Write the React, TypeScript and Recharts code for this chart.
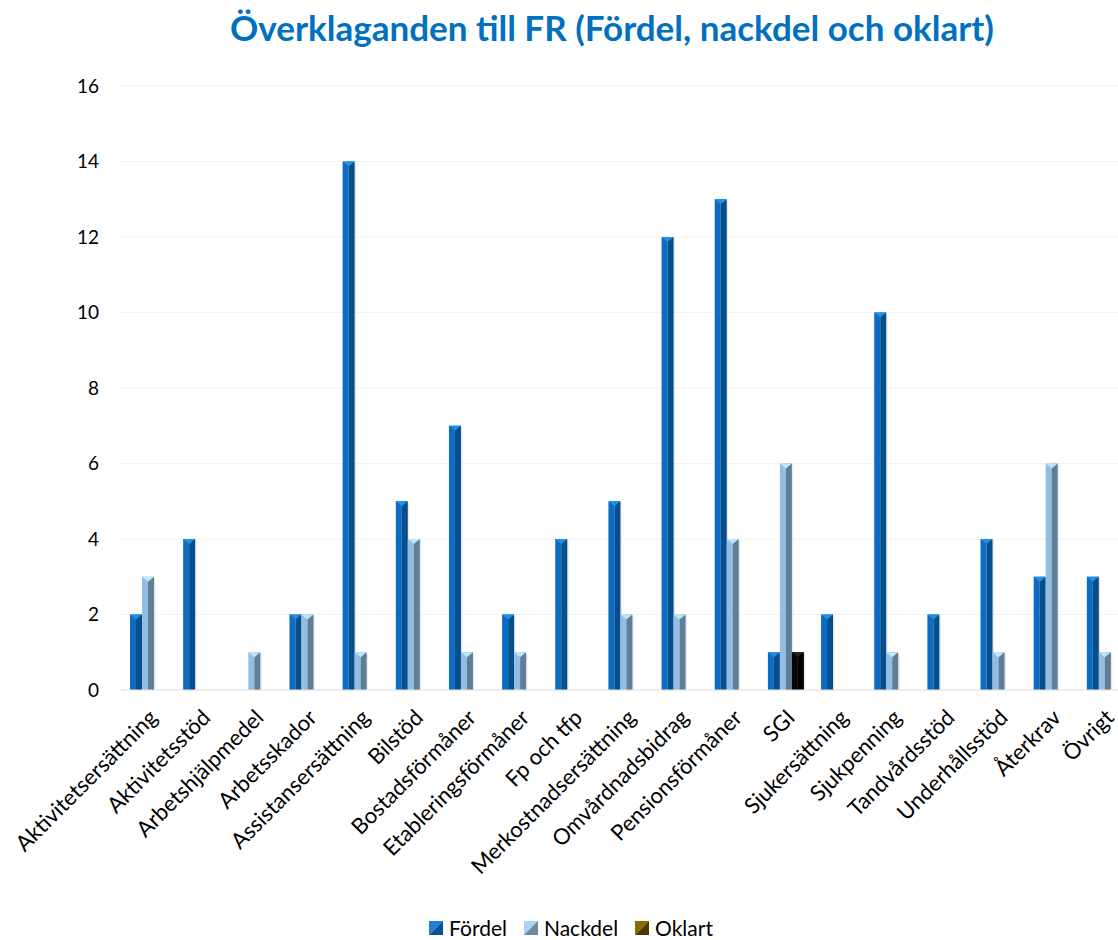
import React from "react";
import { BarChart, Bar, XAxis, YAxis, CartesianGrid, Legend } from "recharts";

const categories = [
  "Aktivitetsersättning",
  "Aktivitetsstöd",
  "Arbetshjälpmedel",
  "Arbetsskador",
  "Assistansersättning",
  "Bilstöd",
  "Bostadsförmåner",
  "Etableringsförmåner",
  "Fp och tfp",
  "Merkostnadsersättning",
  "Omvårdnadsbidrag",
  "Pensionsförmåner",
  "SGI",
  "Sjukersättning",
  "Sjukpenning",
  "Tandvårdsstöd",
  "Underhållsstöd",
  "Återkrav",
  "Övrigt",
];

const fordel: (number | null)[] = [2, 4, null, 2, 14, 5, 7, 2, 4, 5, 12, 13, 1, 2, 10, 2, 4, 3, 3];
const nackdel: (number | null)[] = [3, null, 1, 2, 1, 4, 1, 1, null, 2, 2, 4, 6, null, 1, null, 1, 6, 1];
const oklart: (number | null)[] = [null, null, null, null, null, null, null, null, null, null, null, null, 1, null, null, null, null, null, null];

const yTicks = [0, 2, 4, 6, 8, 10, 12, 14, 16];

const seriesNames = ["Fördel", "Nackdel", "Oklart"];

const data = categories.map((name, i) => ({
  name,
  F: fordel[i],
  N: nackdel[i],
  O: oklart[i],
}));

const FONT = "Lato, 'Open Sans', sans-serif";

const makePrism = (front: string, side: string, top: string) => (props: any) => {
  const { x, y, width, height, value } = props;
  if (value == null || !height || height <= 0) return null;
  const half = width / 2;
  const th = Math.min(width / 2.4, height);
  return (
    <g>
      <rect x={x + 1.5} y={y + 1.5} width={width} height={height - 1.5} fill="rgba(0,0,0,0.08)" />
      <rect x={x} y={y} width={half} height={height} fill={front} />
      <rect x={x + half} y={y} width={width - half} height={height} fill={side} />
      <polygon points={`${x},${y} ${x + width},${y} ${x + half},${y + th}`} fill={top} />
    </g>
  );
};

const FordelShape = makePrism("#0b6cc2", "#064e8c", "#1f8fe8");
const NackdelShape = makePrism("#93bde2", "#5f7f99", "#bfe6f8");
const OklartShape = makePrism("#050505", "#000000", "#222222");

const legendColors = [
  ["#1f80d8", "#08508f"],
  ["#a8d4f0", "#6a8aa6"],
  ["#8a6a06", "#4c3a00"],
];

const renderLegend = () => (
  <div
    style={{
      display: "flex",
      justifyContent: "center",
      alignItems: "center",
      height: 24,
      lineHeight: "24px",
      paddingLeft: 11,
      fontFamily: FONT,
      fontSize: 21,
      color: "#000",
    }}
  >
    {seriesNames.map((n, i) => (
      <div key={n} style={{ display: "flex", alignItems: "center", marginLeft: i === 0 ? 0 : 17 }}>
        <svg width={14} height={14} style={{ marginRight: 6 }}>
          <polygon points="0,0 14,0 0,14" fill={legendColors[i][0]} />
          <polygon points="14,0 14,14 0,14" fill={legendColors[i][1]} />
        </svg>
        <span>{n}</span>
      </div>
    ))}
  </div>
);

const XTick = (props: any) => {
  const { x, y, payload } = props;
  return (
    <g transform={`translate(${x + 11},${y + 21})`}>
      <text
        x={0}
        y={0}
        transform="rotate(-45)"
        textAnchor="end"
        fontSize={22}
        fontFamily={FONT}
        fill="#000"
      >
        {payload.value}
      </text>
    </g>
  );
};

export default function App() {
  return (
    <div
      style={{
        position: "absolute",
        left: 0,
        top: 0,
        width: 1118,
        height: 940,
        overflow: "hidden",
        background: "#fff",
      }}
    >
      <div
        style={{
          position: "absolute",
          left: 0,
          top: 6,
          width: 1224,
          textAlign: "center",
          fontFamily: FONT,
          fontWeight: 700,
          fontSize: 35,
          color: "#0070c0",
          whiteSpace: "nowrap",
        }}
      >
        Överklaganden till FR (Fördel, nackdel och oklart)
      </div>
      <div style={{ position: "absolute", left: 0, top: 0 }}>
        <BarChart
          width={1140}
          height={940}
          data={data}
          margin={{ top: 86, right: 9, left: 0, bottom: 0 }}
          barSize={12}
          barGap={0}
        >
          <CartesianGrid vertical={false} stroke="#f3f3f3" />
          <XAxis
            dataKey="name"
            interval={0}
            height={226}
            tick={<XTick />}
            tickLine={false}
            axisLine={{ stroke: "#e3e3e3" }}
          />
          <YAxis
            width={121}
            domain={[0, 16]}
            ticks={yTicks}
            interval={0}
            axisLine={false}
            tickLine={false}
            tickMargin={16}
            tick={{ fontSize: 19, fontFamily: FONT, fill: "#000" }}
          />
          <Legend verticalAlign="bottom" content={renderLegend} wrapperStyle={{ bottom: 0 }} />
          <Bar dataKey="F" name="Fördel" shape={FordelShape} isAnimationActive={false} />
          <Bar dataKey="N" name="Nackdel" shape={NackdelShape} isAnimationActive={false} />
          <Bar dataKey="O" name="Oklart" shape={OklartShape} isAnimationActive={false} />
        </BarChart>
      </div>
    </div>
  );
}
